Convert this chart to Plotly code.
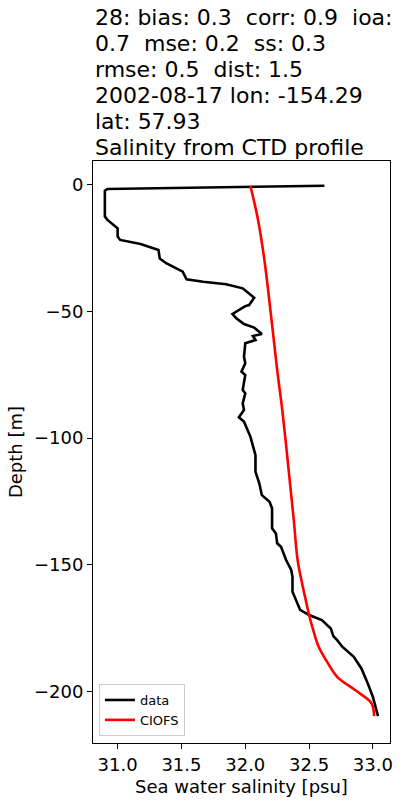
import plotly.graph_objects as go

# ---------------------------------------------------------------------------
# Data
# ---------------------------------------------------------------------------
data_depth = [
    -0.4, -1.7, -2.4, -12.6, -13.9, -15.9, -17.2, -20.5, -21.8, -23.4,
    -25.8, -29.1, -31.0, -34.3, -37.3, -38.3, -39.3, -40.9, -44.6, -47.5,
    -47.9, -51.0, -52.7, -55.0, -56.4, -58.9, -59.7, -61.3, -62.6, -67.9,
    -70.5, -73.8, -75.1, -81.0, -82.3, -86.3, -88.9, -91.8, -93.5, -99.4,
    -104.7, -106.7, -113.3, -117.8, -122.5, -125.1, -127.7, -135.6, -137.6,
    -141.5, -142.9, -148.1, -152.0, -154.7, -160.6, -163.9, -167.8, -169.8,
    -171.8, -175.1, -178.1, -179.7, -182.3, -186.3, -190.9, -196.8, -202.1,
    -209.7,
]
data_sal = [
    32.62, 30.92, 30.90, 30.90, 30.92, 30.97, 31.00, 31.00, 31.02, 31.18,
    31.32, 31.33, 31.38, 31.51, 31.54, 31.67, 31.85, 31.98, 32.07, 32.03,
    32.00, 31.90, 31.93, 31.99, 32.07, 32.13, 32.06, 32.08, 32.00, 31.99,
    32.00, 31.97, 32.00, 31.98, 32.00, 31.98, 31.99, 31.95, 31.99, 32.04,
    32.07, 32.08, 32.08, 32.11, 32.13, 32.19, 32.21, 32.21, 32.24,
    32.25, 32.28, 32.32, 32.36, 32.37, 32.37, 32.40, 32.43, 32.50,
    32.60, 32.67, 32.69, 32.72, 32.76, 32.85, 32.91, 32.96, 33.00,
    33.04,
]

model_depth = [
    -0.4, -13.9, -29.7, -50.8, -73.1, -88.9, -112.6, -132.3, -148.1, -157.3,
    -163.0, -169.8, -176.4, -182.3, -188.2, -194.2, -199.4, -204.0, -206.0,
    -209.7,
]
model_sal = [
    32.04, 32.10, 32.15, 32.20, 32.25, 32.29, 32.34, 32.38, 32.41, 32.445,
    32.47, 32.50, 32.536, 32.575, 32.64, 32.72, 32.86, 32.98, 33.00,
    33.01,
]

title_lines = [
    "28: bias: 0.3  corr: 0.9  ioa:",
    "0.7  mse: 0.2  ss: 0.3",
    "rmse: 0.5  dist: 1.5",
    "2002-08-17 lon: -154.29",
    "lat: 57.93",
    "Salinity from CTD profile",
]

x_ticks = [31.0, 31.5, 32.0, 32.5, 33.0]
y_ticks = [0, -50, -100, -150, -200]

FONT = "DejaVu Sans"

fig = go.Figure()
fig.add_trace(go.Scatter(x=data_sal, y=data_depth, mode="lines", name="data",
                         line=dict(color="black", width=2.6)))
fig.add_trace(go.Scatter(x=model_sal, y=model_depth, mode="lines", name="CIOFS",
                         line=dict(color="red", width=2.6, shape="spline")))

axis_style = dict(
    showline=True, linecolor="black", linewidth=1, mirror=True,
    ticks="outside", ticklen=5, tickwidth=1, tickcolor="black",
    showgrid=False, zeroline=False,
    tickfont=dict(family=FONT, size=18, color="black"),
)

fig.update_xaxes(range=[30.807, 33.134], tickvals=x_ticks,
                 ticktext=[f"{v:.1f}" for v in x_ticks],
                 title=dict(text="Sea water salinity [psu]",
                            font=dict(family=FONT, size=18, color="black"),
                            standoff=6),
                 **axis_style)
fig.update_yaxes(range=[-220.3, 9.35], tickvals=y_ticks,
                 title=dict(text="Depth [m]",
                            font=dict(family=FONT, size=18, color="black"),
                            standoff=6),
                 **axis_style)

# stacked title lines (matplotlib-like spacing)
for i, line in enumerate(title_lines):
    fig.add_annotation(text=line, xref="paper", yref="paper", x=0, y=1,
                       xanchor="left", yanchor="middle", showarrow=False,
                       yshift=14 + 26 * (len(title_lines) - 1 - i),
                       font=dict(family=FONT, size=22, color="black"))

fig.update_layout(
    width=400, height=800,
    margin=dict(l=93, r=7, t=161, b=57),
    plot_bgcolor="white", paper_bgcolor="white",
    font=dict(family=FONT, color="black"),
    legend=dict(x=0.02, y=0.012, xanchor="left", yanchor="bottom",
                bgcolor="rgba(255,255,255,0.8)", bordercolor="#cccccc",
                borderwidth=1, font=dict(family=FONT, size=13, color="black")),
)

# drop the default page margin so the 400x800 figure fills the window
fig.write_html("out.html",
               config={"displayModeBar": False},
               post_script="document.body.style.margin='0';"
                           "document.body.style.overflow='hidden';")
